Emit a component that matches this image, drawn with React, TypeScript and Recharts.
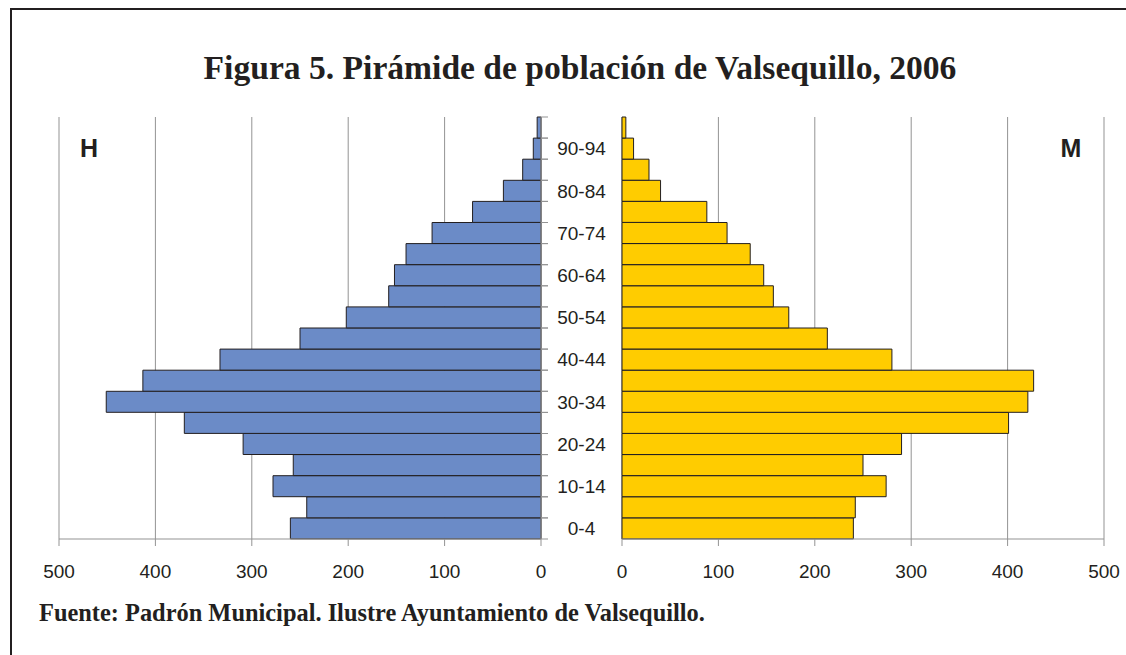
import { Bar, BarChart, CartesianGrid, XAxis, YAxis } from 'recharts'

// grupos de edad, de abajo (0-4) hacia arriba
const AGE_GROUPS = [
  '0-4', '5-9', '10-14', '15-19', '20-24', '25-29', '30-34', '35-39', '40-44', '45-49',
  '50-54', '55-59', '60-64', '65-69', '70-74', '75-79', '80-84', '85-89', '90-94', '95+',
]
const HOMBRES = [260, 243, 278, 257, 309, 370, 451, 413, 333, 250, 202, 158, 152, 140, 113, 71, 39, 19, 8, 4]
const MUJERES = [240, 242, 274, 250, 290, 401, 421, 427, 280, 213, 173, 157, 147, 133, 109, 88, 40, 28, 12, 4]
const X_TICKS = [0, 100, 200, 300, 400, 500]

const TITLE = 'Figura 5. Pirámide de población de Valsequillo, 2006'
const SOURCE = 'Fuente: Padrón Municipal. Ilustre Ayuntamiento de Valsequillo.'

const BLUE = '#6b8bc7'
const YELLOW = '#ffcc00'
const DARK = '#231f20'
const GRID = '#939393'
const SANS = '"Liberation Sans", Arial, sans-serif'
const SERIF = '"Liberation Serif", "Times New Roman", serif'

const PLOT_TOP = 117
const PLOT_BOTTOM = 539
const BAND = (PLOT_BOTTOM - PLOT_TOP) / AGE_GROUPS.length
const GAP = 81

const data = AGE_GROUPS.map((age, i) => ({ age, h: HOMBRES[i], m: MUJERES[i] }))

const tickStyle = { fontSize: 19, fill: DARK, fontFamily: SANS }

// eje central: marcas en los límites de cada grupo y etiqueta cada dos grupos
function LeftAgeTick(props: any) {
  const { x, y, payload } = props
  const idx = AGE_GROUPS.indexOf(payload.value)
  return (
    <g>
      <line x1={x} x2={x + 7} y1={y - BAND / 2} y2={y - BAND / 2} stroke={GRID} />
      <line x1={x} x2={x + 7} y1={y + BAND / 2} y2={y + BAND / 2} stroke={GRID} />
      {idx % 2 === 0 && (
        <text x={x + GAP / 2} y={y} dy="0.36em" textAnchor="middle" {...tickStyle}>
          {payload.value}
        </text>
      )}
    </g>
  )
}

function RightAgeTick(props: any) {
  const { x, y } = props
  return (
    <g>
      <line x1={x - 6} x2={x} y1={y - BAND / 2} y2={y - BAND / 2} stroke={GRID} />
      <line x1={x - 6} x2={x} y1={y + BAND / 2} y2={y + BAND / 2} stroke={GRID} />
    </g>
  )
}

const sideLabel = {
  position: 'absolute' as const,
  top: 136,
  width: 24,
  textAlign: 'center' as const,
  fontFamily: SANS,
  fontWeight: 'bold' as const,
  fontSize: 25,
  lineHeight: 1,
  color: DARK,
}

export default function App() {
  return (
    <div
      style={{
        position: 'absolute',
        left: 0,
        top: 0,
        width: 1126,
        height: 655,
        overflow: 'hidden',
        background: '#fff',
      }}
    >
      <div
        style={{
          position: 'absolute',
          left: 10,
          top: 8,
          width: 1200,
          height: 700,
          border: `2px solid ${DARK}`,
        }}
      />
      <div
        style={{
          position: 'absolute',
          left: 0,
          top: 51,
          width: 1160,
          textAlign: 'center',
          fontFamily: SERIF,
          fontWeight: 'bold',
          fontSize: 33.6,
          lineHeight: 1,
          color: DARK,
          whiteSpace: 'nowrap',
        }}
      >
        {TITLE}
      </div>

      <div style={{ position: 'absolute', left: 0, top: 0 }}>
        <BarChart
          width={640}
          height={600}
          data={data}
          layout="vertical"
          barCategoryGap={0}
          margin={{ top: PLOT_TOP, right: 18, bottom: 21, left: 59 }}
        >
          <CartesianGrid horizontal={false} stroke={GRID} />
          <XAxis
            type="number"
            domain={[0, 500]}
            ticks={X_TICKS}
            reversed
            height={40}
            tickSize={7}
            tickMargin={19}
            stroke={GRID}
            tick={tickStyle}
          />
          <XAxis
            xAxisId="top"
            orientation="top"
            type="number"
            domain={[0, 500]}
            reversed
            height={0}
            tick={false}
            tickLine={false}
            stroke={GRID}
          />
          <YAxis
            type="category"
            dataKey="age"
            orientation="right"
            reversed
            width={GAP}
            interval={0}
            tickSize={0}
            tickMargin={0}
            tickLine={false}
            stroke={GRID}
            tick={<LeftAgeTick />}
          />
          <Bar dataKey="h" fill={BLUE} stroke={DARK} strokeWidth={1} isAnimationActive={false} />
        </BarChart>
      </div>

      <div style={{ position: 'absolute', left: 0, top: 0 }}>
        <BarChart
          width={1126}
          height={600}
          data={data}
          layout="vertical"
          barCategoryGap={0}
          margin={{ top: PLOT_TOP, right: 22, bottom: 21, left: 622 }}
        >
          <CartesianGrid horizontal={false} stroke={GRID} />
          <XAxis
            type="number"
            domain={[0, 500]}
            ticks={X_TICKS}
            height={40}
            tickSize={7}
            tickMargin={19}
            stroke={GRID}
            tick={tickStyle}
          />
          <XAxis
            xAxisId="top"
            orientation="top"
            type="number"
            domain={[0, 500]}
            height={0}
            tick={false}
            tickLine={false}
            stroke={GRID}
          />
          <YAxis
            type="category"
            dataKey="age"
            orientation="left"
            reversed
            width={0}
            interval={0}
            tickSize={0}
            tickMargin={0}
            tickLine={false}
            stroke={GRID}
            tick={<RightAgeTick />}
          />
          <Bar dataKey="m" fill={YELLOW} stroke={DARK} strokeWidth={1} isAnimationActive={false} />
        </BarChart>
      </div>

      <div style={{ ...sideLabel, left: 77 }}>H</div>
      <div style={{ ...sideLabel, left: 1059 }}>M</div>

      <div
        style={{
          position: 'absolute',
          left: 39,
          top: 601,
          fontFamily: SERIF,
          fontWeight: 'bold',
          fontSize: 24.4,
          lineHeight: 1,
          color: DARK,
          whiteSpace: 'nowrap',
        }}
      >
        {SOURCE}
      </div>
    </div>
  )
}
